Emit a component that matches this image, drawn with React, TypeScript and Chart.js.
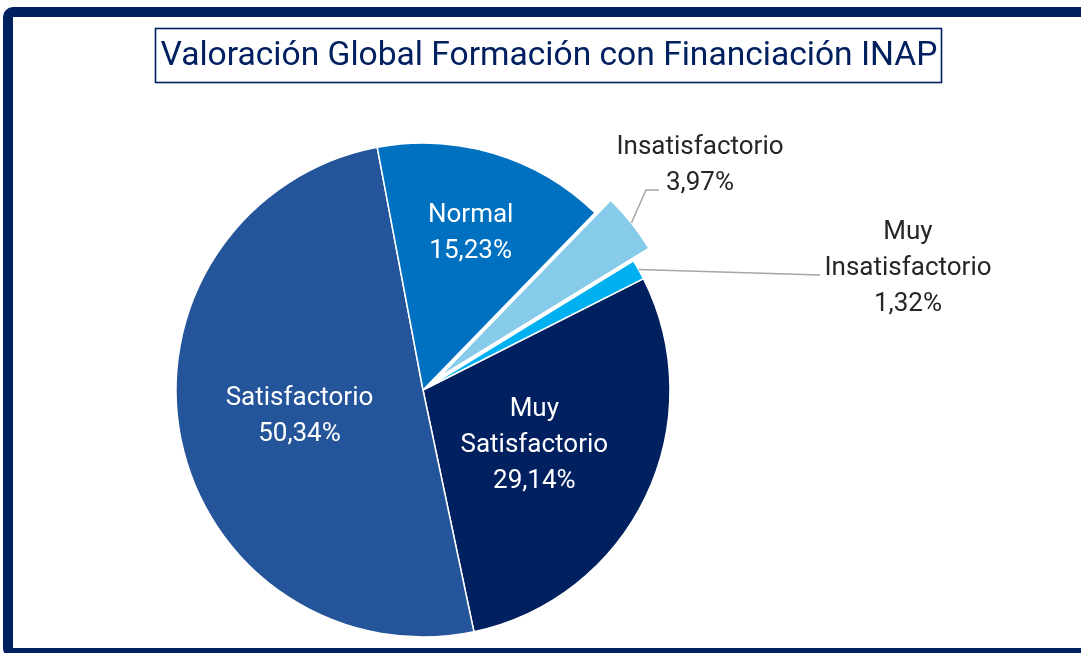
import React, { useEffect, useRef } from "react";
import { Chart, registerables } from "chart.js";

Chart.register(...registerables);

const title = "Valoración Global Formación con Financiación INAP";
const categories = ["Muy Satisfactorio", "Satisfactorio", "Normal", "Insatisfactorio", "Muy Insatisfactorio"];
const values = [29.14, 50.34, 15.23, 3.97, 1.32];
const colors = ["#002060", "#24549A", "#0070C0", "#87CBEA", "#00B0F0"];
const explode = [0, 0, 0, 20, 0];

const NAVY = "#002060";
const FONT = "Roboto, 'Noto Sans', sans-serif";

const fmt = (v: number) => v.toFixed(2).replace(".", ",") + "%";

// label placement settings (per slice index)
const insideFrac: Record<number, number> = { 0: 0.5, 1: 0.51, 2: 0.67 };
const outside: Record<number, { tx: number; ty: number; ex: number; ey: number; h: number }> = {
  3: { tx: 277, ty: -227, ex: 236, ey: -200, h: 13 },
  4: { tx: 485, ty: -124, ex: 397, ey: -115, h: 0 },
};

// translate exploded slices without enlarging them
const explodePlugin = {
  id: "explodeSlices",
  afterUpdate(chart: any) {
    const meta = chart.getDatasetMeta(0);
    meta.data.forEach((arc: any, i: number) => {
      const d = explode[i];
      if (!d || arc.__wrapped) return;
      const orig = arc.draw;
      arc.draw = function (ctx: CanvasRenderingContext2D) {
        const mid = (this.startAngle + this.endAngle) / 2;
        ctx.save();
        ctx.translate(Math.cos(mid) * d, Math.sin(mid) * d);
        orig.call(this, ctx);
        ctx.restore();
      };
      arc.__wrapped = true;
    });
  },
};

const labelPlugin = {
  id: "pieLabels",
  afterDraw(chart: any) {
    const ctx = chart.ctx as CanvasRenderingContext2D;
    // title with box
    ctx.save();
    ctx.font = `33.6px ${FONT}`;
    ctx.fillStyle = NAVY;
    ctx.textAlign = "center";
    ctx.textBaseline = "alphabetic";
    const cx = 549;
    ctx.fillText(title, cx, 65);
    ctx.strokeStyle = NAVY;
    ctx.lineWidth = 1.6;
    ctx.strokeRect(155.5, 28.5, 786, 54);
    ctx.restore();

    const meta = chart.getDatasetMeta(0);
    const lh = 36;
    meta.data.forEach((arc: any, i: number) => {
      const p = arc.getProps(["x", "y", "startAngle", "endAngle", "outerRadius"], true);
      const mid = (p.startAngle + p.endAngle) / 2;
      const dx = Math.cos(mid);
      const dy = Math.sin(mid);
      const lines = [...categories[i].split(" "), fmt(values[i])];
      ctx.save();
      ctx.font = `26px ${FONT}`;
      ctx.textAlign = "center";
      ctx.textBaseline = "middle";
      if (insideFrac[i] !== undefined) {
        const r = p.outerRadius * insideFrac[i];
        const lx = p.x + dx * r;
        const ly = p.y + dy * r + 2;
        ctx.fillStyle = "#FFFFFF";
        lines.forEach((t, k) => {
          ctx.fillText(t, lx, ly + (k - (lines.length - 1) / 2) * lh);
        });
      } else if (outside[i]) {
        const o = outside[i];
        const rr = p.outerRadius + explode[i];
        const sx = p.x + dx * rr;
        const sy = p.y + dy * rr;
        ctx.strokeStyle = "#A6A6A6";
        ctx.lineWidth = 1.5;
        ctx.beginPath();
        ctx.moveTo(sx, sy);
        ctx.lineTo(p.x + o.ex - o.h, p.y + o.ey);
        ctx.lineTo(p.x + o.ex, p.y + o.ey);
        ctx.stroke();
        ctx.fillStyle = "#262626";
        lines.forEach((t, k) => {
          ctx.fillText(t, p.x + o.tx, p.y + o.ty + 2 + (k - (lines.length - 1) / 2) * lh);
        });
      }
      ctx.restore();
    });
  },
};

export default function App() {
  const ref = useRef<HTMLCanvasElement | null>(null);
  useEffect(() => {
    if (!ref.current) return;
    const chart = new Chart(ref.current, {
      type: "pie",
      data: {
        labels: categories,
        datasets: [
          {
            data: values,
            backgroundColor: colors,
            borderColor: "#FFFFFF",
            borderWidth: 1.5,
          } as any,
        ],
      },
      options: {
        responsive: false,
        maintainAspectRatio: false,
        animation: false,
        rotation: 63.2,
        radius: 247,
        layout: { padding: { left: 0, right: 235, top: 127, bottom: 0 } },
        plugins: {
          legend: { display: false },
          tooltip: { enabled: false },
          title: { display: false },
        },
      } as any,
      plugins: [explodePlugin, labelPlugin],
    });
    return () => chart.destroy();
  }, []);

  return (
    <div
      style={{
        position: "fixed",
        left: 0,
        top: 0,
        width: 1081,
        height: 653,
        overflow: "hidden",
        background: "#FFFFFF",
      }}
    >
      <div
        style={{
          position: "absolute",
          left: 3,
          top: 7,
          width: 1100,
          height: 651,
          boxSizing: "border-box",
          border: `10px solid ${NAVY}`,
          borderRadius: 10,
        }}
      />
      <canvas
        ref={ref}
        width={1081}
        height={653}
        style={{ position: "absolute", left: 0, top: 0, width: 1081, height: 653 }}
      />
    </div>
  );
}
